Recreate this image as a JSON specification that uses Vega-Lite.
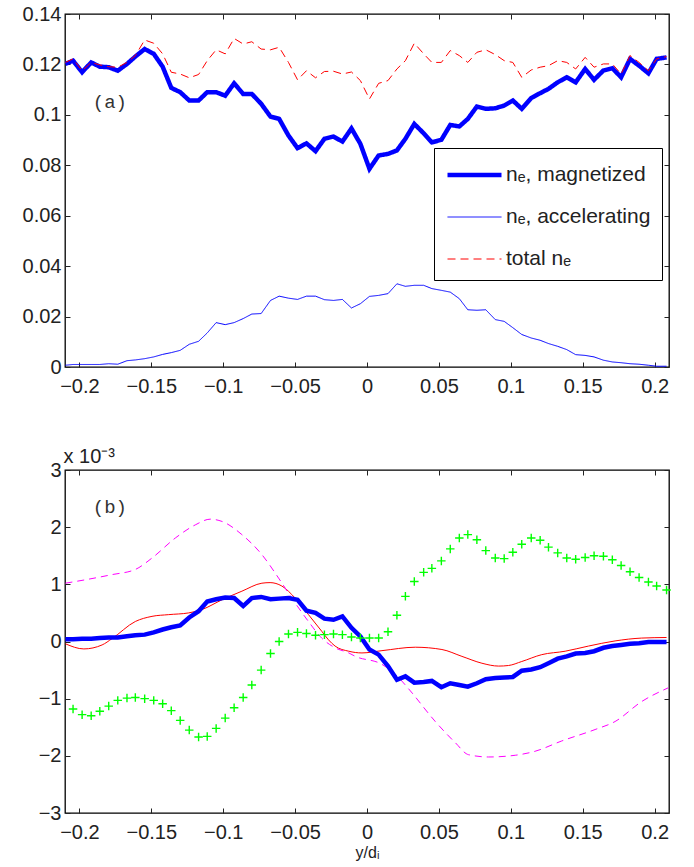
{
  "$schema": "https://vega.github.io/schema/vega-lite/v6.json",
  "autosize": {"type": "pad"},
  "padding": {"left": 21, "top": 3, "right": 5, "bottom": 5},
  "spacing": 48,
  "config": {
    "font": "Liberation Sans",
    "view": {"stroke": "#000", "strokeWidth": 1.3},
    "axis": {"grid": false, "domain": false, "labelFont": "Liberation Sans", "labelFontSize": 20, "labelColor": "#222", "tickColor": "#222", "tickSize": -5, "tickWidth": 1, "labelPadding": 9, "titleFont": "Liberation Sans", "titleFontWeight": "normal", "titleColor": "#222"},
    "axisX": {"labelPadding": 14}
  },
  "datasets": {
    "top": [
{"x":-0.2097,"v":0.1202,"s":"mag"},{"x":-0.2044,"v":0.1215,"s":"mag"},{"x":-0.1981,"v":0.1169,"s":"mag"},{"x":-0.1918,"v":0.1208,"s":"mag"},{"x":-0.1858,"v":0.1191,"s":"mag"},{"x":-0.1796,"v":0.1189,"s":"mag"},{"x":-0.1733,"v":0.1175,"s":"mag"},{"x":-0.1669,"v":0.1202,"s":"mag"},{"x":-0.1611,"v":0.1231,"s":"mag"},{"x":-0.1546,"v":0.1261,"s":"mag"},
{"x":-0.1483,"v":0.1242,"s":"mag"},{"x":-0.1421,"v":0.1191,"s":"mag"},{"x":-0.1361,"v":0.1107,"s":"mag"},{"x":-0.1299,"v":0.1090,"s":"mag"},{"x":-0.1236,"v":0.1057,"s":"mag"},{"x":-0.1171,"v":0.1057,"s":"mag"},{"x":-0.1111,"v":0.1090,"s":"mag"},{"x":-0.1049,"v":0.1090,"s":"mag"},{"x":-0.0986,"v":0.1076,"s":"mag"},{"x":-0.0924,"v":0.1125,"s":"mag"},
{"x":-0.0861,"v":0.1083,"s":"mag"},{"x":-0.0801,"v":0.1083,"s":"mag"},{"x":-0.0736,"v":0.1044,"s":"mag"},{"x":-0.0671,"v":0.0993,"s":"mag"},{"x":-0.0611,"v":0.0984,"s":"mag"},{"x":-0.0546,"v":0.0918,"s":"mag"},{"x":-0.0483,"v":0.0868,"s":"mag"},{"x":-0.0421,"v":0.0887,"s":"mag"},{"x":-0.0358,"v":0.0856,"s":"mag"},{"x":-0.0296,"v":0.0905,"s":"mag"},
{"x":-0.0233,"v":0.0914,"s":"mag"},{"x":-0.0171,"v":0.0894,"s":"mag"},{"x":-0.0108,"v":0.0946,"s":"mag"},{"x":-0.0046,"v":0.0885,"s":"mag"},{"x":0.0017,"v":0.0786,"s":"mag"},{"x":0.0081,"v":0.0839,"s":"mag"},{"x":0.0146,"v":0.0845,"s":"mag"},{"x":0.0208,"v":0.0859,"s":"mag"},{"x":0.0267,"v":0.0905,"s":"mag"},{"x":0.0329,"v":0.0964,"s":"mag"},
{"x":0.0394,"v":0.0927,"s":"mag"},{"x":0.0451,"v":0.0891,"s":"mag"},{"x":0.0517,"v":0.0901,"s":"mag"},{"x":0.0579,"v":0.0960,"s":"mag"},{"x":0.0642,"v":0.0954,"s":"mag"},{"x":0.0701,"v":0.0984,"s":"mag"},{"x":0.0764,"v":0.1033,"s":"mag"},{"x":0.0826,"v":0.1024,"s":"mag"},{"x":0.0892,"v":0.1026,"s":"mag"},{"x":0.0954,"v":0.1037,"s":"mag"},
{"x":0.1014,"v":0.1057,"s":"mag"},{"x":0.1076,"v":0.1024,"s":"mag"},{"x":0.1142,"v":0.1067,"s":"mag"},{"x":0.1204,"v":0.1086,"s":"mag"},{"x":0.1262,"v":0.1103,"s":"mag"},{"x":0.1326,"v":0.1129,"s":"mag"},{"x":0.1389,"v":0.1149,"s":"mag"},{"x":0.1451,"v":0.1129,"s":"mag"},{"x":0.1517,"v":0.1182,"s":"mag"},{"x":0.1579,"v":0.1139,"s":"mag"},
{"x":0.1644,"v":0.1176,"s":"mag"},{"x":0.1706,"v":0.1185,"s":"mag"},{"x":0.1767,"v":0.1149,"s":"mag"},{"x":0.1829,"v":0.1222,"s":"mag"},{"x":0.1892,"v":0.1195,"s":"mag"},{"x":0.1957,"v":0.1165,"s":"mag"},{"x":0.2014,"v":0.1222,"s":"mag"},{"x":0.2083,"v":0.1228,"s":"mag"},

{"x":-0.2097,"v":0.0007,"s":"acc"},{"x":-0.2044,"v":0.0010,"s":"acc"},{"x":-0.1981,"v":0.0010,"s":"acc"},{"x":-0.1918,"v":0.0010,"s":"acc"},{"x":-0.1858,"v":0.0010,"s":"acc"},{"x":-0.1796,"v":0.0013,"s":"acc"},{"x":-0.1733,"v":0.0011,"s":"acc"},{"x":-0.1669,"v":0.0025,"s":"acc"},{"x":-0.1611,"v":0.0028,"s":"acc"},{"x":-0.1546,"v":0.0033,"s":"acc"},
{"x":-0.1483,"v":0.0040,"s":"acc"},{"x":-0.1421,"v":0.0050,"s":"acc"},{"x":-0.1361,"v":0.0057,"s":"acc"},{"x":-0.1299,"v":0.0066,"s":"acc"},{"x":-0.1236,"v":0.0090,"s":"acc"},{"x":-0.1171,"v":0.0102,"s":"acc"},{"x":-0.1111,"v":0.0135,"s":"acc"},{"x":-0.1049,"v":0.0176,"s":"acc"},{"x":-0.0986,"v":0.0168,"s":"acc"},{"x":-0.0924,"v":0.0176,"s":"acc"},
{"x":-0.0861,"v":0.0192,"s":"acc"},{"x":-0.0801,"v":0.0210,"s":"acc"},{"x":-0.0736,"v":0.0212,"s":"acc"},{"x":-0.0671,"v":0.0264,"s":"acc"},{"x":-0.0611,"v":0.0281,"s":"acc"},{"x":-0.0546,"v":0.0273,"s":"acc"},{"x":-0.0483,"v":0.0268,"s":"acc"},{"x":-0.0421,"v":0.0281,"s":"acc"},{"x":-0.0358,"v":0.0281,"s":"acc"},{"x":-0.0296,"v":0.0267,"s":"acc"},
{"x":-0.0233,"v":0.0264,"s":"acc"},{"x":-0.0171,"v":0.0268,"s":"acc"},{"x":-0.0108,"v":0.0234,"s":"acc"},{"x":-0.0046,"v":0.0251,"s":"acc"},{"x":0.0017,"v":0.0280,"s":"acc"},{"x":0.0081,"v":0.0284,"s":"acc"},{"x":0.0146,"v":0.0291,"s":"acc"},{"x":0.0208,"v":0.0330,"s":"acc"},{"x":0.0267,"v":0.0320,"s":"acc"},{"x":0.0329,"v":0.0324,"s":"acc"},
{"x":0.0394,"v":0.0324,"s":"acc"},{"x":0.0451,"v":0.0311,"s":"acc"},{"x":0.0517,"v":0.0304,"s":"acc"},{"x":0.0579,"v":0.0297,"s":"acc"},{"x":0.0642,"v":0.0271,"s":"acc"},{"x":0.0701,"v":0.0227,"s":"acc"},{"x":0.0764,"v":0.0225,"s":"acc"},{"x":0.0826,"v":0.0227,"s":"acc"},{"x":0.0892,"v":0.0188,"s":"acc"},{"x":0.0954,"v":0.0181,"s":"acc"},
{"x":0.1014,"v":0.0156,"s":"acc"},{"x":0.1076,"v":0.0129,"s":"acc"},{"x":0.1142,"v":0.0115,"s":"acc"},{"x":0.1204,"v":0.0106,"s":"acc"},{"x":0.1262,"v":0.0093,"s":"acc"},{"x":0.1326,"v":0.0082,"s":"acc"},{"x":0.1389,"v":0.0069,"s":"acc"},{"x":0.1451,"v":0.0049,"s":"acc"},{"x":0.1517,"v":0.0046,"s":"acc"},{"x":0.1579,"v":0.0040,"s":"acc"},
{"x":0.1644,"v":0.0027,"s":"acc"},{"x":0.1706,"v":0.0020,"s":"acc"},{"x":0.1767,"v":0.0017,"s":"acc"},{"x":0.1829,"v":0.0013,"s":"acc"},{"x":0.1892,"v":0.0011,"s":"acc"},{"x":0.1957,"v":0.0007,"s":"acc"},{"x":0.2014,"v":0.0003,"s":"acc"},{"x":0.2083,"v":0.0003,"s":"acc"},

{"x":-0.2097,"v":0.1208,"s":"tot"},{"x":-0.2044,"v":0.1222,"s":"tot"},{"x":-0.1981,"v":0.1175,"s":"tot"},{"x":-0.1918,"v":0.1208,"s":"tot"},{"x":-0.1858,"v":0.1198,"s":"tot"},{"x":-0.1796,"v":0.1191,"s":"tot"},{"x":-0.1733,"v":0.1189,"s":"tot"},{"x":-0.1669,"v":0.1208,"s":"tot"},{"x":-0.1611,"v":0.1235,"s":"tot"},{"x":-0.1546,"v":0.1297,"s":"tot"},
{"x":-0.1483,"v":0.1284,"s":"tot"},{"x":-0.1421,"v":0.1242,"s":"tot"},{"x":-0.1361,"v":0.1169,"s":"tot"},{"x":-0.1299,"v":0.1162,"s":"tot"},{"x":-0.1236,"v":0.1147,"s":"tot"},{"x":-0.1171,"v":0.1160,"s":"tot"},{"x":-0.1111,"v":0.1215,"s":"tot"},{"x":-0.1049,"v":0.1258,"s":"tot"},{"x":-0.0986,"v":0.1242,"s":"tot"},{"x":-0.0924,"v":0.1303,"s":"tot"},
{"x":-0.0861,"v":0.1281,"s":"tot"},{"x":-0.0801,"v":0.1290,"s":"tot"},{"x":-0.0736,"v":0.1261,"s":"tot"},{"x":-0.0671,"v":0.1258,"s":"tot"},{"x":-0.0611,"v":0.1268,"s":"tot"},{"x":-0.0546,"v":0.1208,"s":"tot"},{"x":-0.0483,"v":0.1139,"s":"tot"},{"x":-0.0421,"v":0.1175,"s":"tot"},{"x":-0.0358,"v":0.1147,"s":"tot"},{"x":-0.0296,"v":0.1172,"s":"tot"},
{"x":-0.0233,"v":0.1173,"s":"tot"},{"x":-0.0171,"v":0.1162,"s":"tot"},{"x":-0.0108,"v":0.1170,"s":"tot"},{"x":-0.0046,"v":0.1136,"s":"tot"},{"x":0.0017,"v":0.1063,"s":"tot"},{"x":0.0081,"v":0.1125,"s":"tot"},{"x":0.0146,"v":0.1136,"s":"tot"},{"x":0.0208,"v":0.1182,"s":"tot"},{"x":0.0267,"v":0.1215,"s":"tot"},{"x":0.0329,"v":0.1284,"s":"tot"},
{"x":0.0394,"v":0.1242,"s":"tot"},{"x":0.0451,"v":0.1208,"s":"tot"},{"x":0.0517,"v":0.1208,"s":"tot"},{"x":0.0579,"v":0.1255,"s":"tot"},{"x":0.0642,"v":0.1235,"s":"tot"},{"x":0.0701,"v":0.1208,"s":"tot"},{"x":0.0764,"v":0.1248,"s":"tot"},{"x":0.0826,"v":0.1258,"s":"tot"},{"x":0.0892,"v":0.1239,"s":"tot"},{"x":0.0954,"v":0.1215,"s":"tot"},
{"x":0.1014,"v":0.1208,"s":"tot"},{"x":0.1076,"v":0.1149,"s":"tot"},{"x":0.1142,"v":0.1178,"s":"tot"},{"x":0.1204,"v":0.1189,"s":"tot"},{"x":0.1262,"v":0.1195,"s":"tot"},{"x":0.1326,"v":0.1215,"s":"tot"},{"x":0.1389,"v":0.1208,"s":"tot"},{"x":0.1451,"v":0.1182,"s":"tot"},{"x":0.1517,"v":0.1228,"s":"tot"},{"x":0.1579,"v":0.1189,"s":"tot"},
{"x":0.1644,"v":0.1202,"s":"tot"},{"x":0.1706,"v":0.1202,"s":"tot"},{"x":0.1767,"v":0.1162,"s":"tot"},{"x":0.1829,"v":0.1235,"s":"tot"},{"x":0.1892,"v":0.1208,"s":"tot"},{"x":0.1957,"v":0.1175,"s":"tot"},{"x":0.2014,"v":0.1222,"s":"tot"},{"x":0.2083,"v":0.1231,"s":"tot"}
    ],
    "bottom": [
{"x":-0.2097,"v":-0.04,"s":"red"},{"x":-0.1969,"v":-0.13,"s":"red"},{"x":-0.1842,"v":-0.06,"s":"red"},{"x":-0.1773,"v":0.05,"s":"red"},{"x":-0.1611,"v":0.35,"s":"red"},{"x":-0.1495,"v":0.44,"s":"red"},{"x":-0.1379,"v":0.47,"s":"red"},{"x":-0.1240,"v":0.50,"s":"red"},{"x":-0.1147,"v":0.56,"s":"red"},{"x":-0.1008,"v":0.73,"s":"red"},
{"x":-0.0870,"v":0.88,"s":"red"},{"x":-0.0731,"v":1.02,"s":"red"},{"x":-0.0674,"v":1.03,"s":"red"},{"x":-0.0592,"v":0.97,"s":"red"},{"x":-0.0500,"v":0.76,"s":"red"},{"x":-0.0407,"v":0.47,"s":"red"},{"x":-0.0315,"v":0.18,"s":"red"},{"x":-0.0268,"v":0.03,"s":"red"},{"x":-0.0222,"v":-0.08,"s":"red"},{"x":-0.0127,"v":-0.17,"s":"red"},
{"x":-0.0035,"v":-0.20,"s":"red"},{"x":0.0104,"v":-0.16,"s":"red"},{"x":0.0336,"v":-0.10,"s":"red"},{"x":0.0521,"v":-0.14,"s":"red"},{"x":0.0660,"v":-0.26,"s":"red"},{"x":0.0799,"v":-0.38,"s":"red"},{"x":0.0915,"v":-0.43,"s":"red"},{"x":0.0984,"v":-0.42,"s":"red"},{"x":0.1076,"v":-0.35,"s":"red"},{"x":0.1215,"v":-0.23,"s":"red"},
{"x":0.1378,"v":-0.17,"s":"red"},{"x":0.1540,"v":-0.08,"s":"red"},{"x":0.1725,"v":0.01,"s":"red"},{"x":0.1910,"v":0.06,"s":"red"},{"x":0.2083,"v":0.07,"s":"red"},

{"x":-0.2097,"v":1.02,"s":"mag"},{"x":-0.1958,"v":1.08,"s":"mag"},{"x":-0.1773,"v":1.17,"s":"mag"},{"x":-0.1611,"v":1.26,"s":"mag"},{"x":-0.1495,"v":1.46,"s":"mag"},{"x":-0.1333,"v":1.81,"s":"mag"},{"x":-0.1194,"v":2.04,"s":"mag"},{"x":-0.1090,"v":2.14,"s":"mag"},{"x":-0.1008,"v":2.10,"s":"mag"},{"x":-0.0870,"v":1.87,"s":"mag"},
{"x":-0.0731,"v":1.52,"s":"mag"},{"x":-0.0615,"v":1.11,"s":"mag"},{"x":-0.0523,"v":0.76,"s":"mag"},{"x":-0.0407,"v":0.35,"s":"mag"},{"x":-0.0315,"v":0.06,"s":"mag"},{"x":-0.0222,"v":-0.11,"s":"mag"},{"x":-0.0127,"v":-0.20,"s":"mag"},{"x":-0.0081,"v":-0.26,"s":"mag"},{"x":0.0104,"v":-0.40,"s":"mag"},{"x":0.0208,"v":-0.60,"s":"mag"},
{"x":0.0290,"v":-0.83,"s":"mag"},{"x":0.0475,"v":-1.40,"s":"mag"},{"x":0.0614,"v":-1.77,"s":"mag"},{"x":0.0706,"v":-1.98,"s":"mag"},{"x":0.0845,"v":-2.02,"s":"mag"},{"x":0.1031,"v":-1.99,"s":"mag"},{"x":0.1169,"v":-1.92,"s":"mag"},{"x":0.1354,"v":-1.74,"s":"mag"},{"x":0.1586,"v":-1.54,"s":"mag"},{"x":0.1725,"v":-1.40,"s":"mag"},
{"x":0.1910,"v":-1.05,"s":"mag"},{"x":0.2095,"v":-0.81,"s":"mag"},

{"x":-0.2097,"v":0.04,"s":"blue"},{"x":-0.2044,"v":0.04,"s":"blue"},{"x":-0.1981,"v":0.05,"s":"blue"},{"x":-0.1918,"v":0.05,"s":"blue"},{"x":-0.1858,"v":0.06,"s":"blue"},{"x":-0.1796,"v":0.07,"s":"blue"},{"x":-0.1733,"v":0.07,"s":"blue"},{"x":-0.1669,"v":0.09,"s":"blue"},{"x":-0.1611,"v":0.11,"s":"blue"},{"x":-0.1546,"v":0.12,"s":"blue"},
{"x":-0.1483,"v":0.16,"s":"blue"},{"x":-0.1421,"v":0.21,"s":"blue"},{"x":-0.1361,"v":0.25,"s":"blue"},{"x":-0.1299,"v":0.28,"s":"blue"},{"x":-0.1236,"v":0.42,"s":"blue"},{"x":-0.1171,"v":0.53,"s":"blue"},{"x":-0.1111,"v":0.70,"s":"blue"},{"x":-0.1049,"v":0.74,"s":"blue"},{"x":-0.0986,"v":0.77,"s":"blue"},{"x":-0.0924,"v":0.76,"s":"blue"},
{"x":-0.0861,"v":0.62,"s":"blue"},{"x":-0.0801,"v":0.76,"s":"blue"},{"x":-0.0736,"v":0.78,"s":"blue"},{"x":-0.0671,"v":0.74,"s":"blue"},{"x":-0.0611,"v":0.75,"s":"blue"},{"x":-0.0546,"v":0.76,"s":"blue"},{"x":-0.0483,"v":0.73,"s":"blue"},{"x":-0.0421,"v":0.54,"s":"blue"},{"x":-0.0358,"v":0.50,"s":"blue"},{"x":-0.0296,"v":0.40,"s":"blue"},
{"x":-0.0233,"v":0.38,"s":"blue"},{"x":-0.0171,"v":0.44,"s":"blue"},{"x":-0.0108,"v":0.24,"s":"blue"},{"x":-0.0046,"v":0.09,"s":"blue"},{"x":0.0017,"v":-0.14,"s":"blue"},{"x":0.0081,"v":-0.23,"s":"blue"},{"x":0.0146,"v":-0.43,"s":"blue"},{"x":0.0208,"v":-0.67,"s":"blue"},{"x":0.0267,"v":-0.61,"s":"blue"},{"x":0.0329,"v":-0.72,"s":"blue"},
{"x":0.0394,"v":-0.71,"s":"blue"},{"x":0.0451,"v":-0.69,"s":"blue"},{"x":0.0517,"v":-0.80,"s":"blue"},{"x":0.0579,"v":-0.73,"s":"blue"},{"x":0.0642,"v":-0.76,"s":"blue"},{"x":0.0701,"v":-0.79,"s":"blue"},{"x":0.0764,"v":-0.73,"s":"blue"},{"x":0.0826,"v":-0.66,"s":"blue"},{"x":0.0892,"v":-0.64,"s":"blue"},{"x":0.0954,"v":-0.63,"s":"blue"},
{"x":0.1014,"v":-0.62,"s":"blue"},{"x":0.1076,"v":-0.51,"s":"blue"},{"x":0.1142,"v":-0.49,"s":"blue"},{"x":0.1204,"v":-0.45,"s":"blue"},{"x":0.1262,"v":-0.38,"s":"blue"},{"x":0.1326,"v":-0.30,"s":"blue"},{"x":0.1389,"v":-0.26,"s":"blue"},{"x":0.1451,"v":-0.21,"s":"blue"},{"x":0.1517,"v":-0.20,"s":"blue"},{"x":0.1579,"v":-0.17,"s":"blue"},
{"x":0.1644,"v":-0.11,"s":"blue"},{"x":0.1706,"v":-0.08,"s":"blue"},{"x":0.1767,"v":-0.06,"s":"blue"},{"x":0.1829,"v":-0.04,"s":"blue"},{"x":0.1892,"v":-0.03,"s":"blue"},{"x":0.1957,"v":-0.01,"s":"blue"},{"x":0.2014,"v":-0.01,"s":"blue"},{"x":0.2083,"v":-0.01,"s":"blue"},

{"x":-0.2044,"v":-1.18,"s":"green"},{"x":-0.1981,"v":-1.28,"s":"green"},{"x":-0.1918,"v":-1.30,"s":"green"},{"x":-0.1858,"v":-1.22,"s":"green"},{"x":-0.1796,"v":-1.13,"s":"green"},{"x":-0.1733,"v":-1.03,"s":"green"},{"x":-0.1669,"v":-0.99,"s":"green"},{"x":-0.1611,"v":-0.98,"s":"green"},{"x":-0.1546,"v":-1.00,"s":"green"},
{"x":-0.1483,"v":-1.03,"s":"green"},{"x":-0.1421,"v":-1.09,"s":"green"},{"x":-0.1361,"v":-1.21,"s":"green"},{"x":-0.1299,"v":-1.38,"s":"green"},{"x":-0.1236,"v":-1.55,"s":"green"},{"x":-0.1171,"v":-1.67,"s":"green"},{"x":-0.1111,"v":-1.66,"s":"green"},{"x":-0.1049,"v":-1.52,"s":"green"},{"x":-0.0986,"v":-1.34,"s":"green"},{"x":-0.0924,"v":-1.16,"s":"green"},
{"x":-0.0861,"v":-0.98,"s":"green"},{"x":-0.0801,"v":-0.76,"s":"green"},{"x":-0.0736,"v":-0.50,"s":"green"},{"x":-0.0671,"v":-0.21,"s":"green"},{"x":-0.0611,"v":0.00,"s":"green"},{"x":-0.0546,"v":0.13,"s":"green"},{"x":-0.0483,"v":0.16,"s":"green"},{"x":-0.0421,"v":0.14,"s":"green"},{"x":-0.0358,"v":0.11,"s":"green"},{"x":-0.0296,"v":0.12,"s":"green"},
{"x":-0.0233,"v":0.13,"s":"green"},{"x":-0.0171,"v":0.12,"s":"green"},{"x":-0.0108,"v":0.08,"s":"green"},{"x":-0.0046,"v":0.06,"s":"green"},{"x":0.0017,"v":0.06,"s":"green"},{"x":0.0081,"v":0.06,"s":"green"},{"x":0.0146,"v":0.17,"s":"green"},{"x":0.0208,"v":0.46,"s":"green"},{"x":0.0267,"v":0.79,"s":"green"},{"x":0.0329,"v":1.05,"s":"green"},
{"x":0.0394,"v":1.21,"s":"green"},{"x":0.0451,"v":1.28,"s":"green"},{"x":0.0517,"v":1.41,"s":"green"},{"x":0.0579,"v":1.62,"s":"green"},{"x":0.0642,"v":1.81,"s":"green"},{"x":0.0701,"v":1.87,"s":"green"},{"x":0.0764,"v":1.78,"s":"green"},{"x":0.0826,"v":1.59,"s":"green"},{"x":0.0892,"v":1.46,"s":"green"},{"x":0.0954,"v":1.45,"s":"green"},
{"x":0.1014,"v":1.56,"s":"green"},{"x":0.1076,"v":1.70,"s":"green"},{"x":0.1142,"v":1.81,"s":"green"},{"x":0.1204,"v":1.77,"s":"green"},{"x":0.1262,"v":1.65,"s":"green"},{"x":0.1326,"v":1.55,"s":"green"},{"x":0.1389,"v":1.46,"s":"green"},{"x":0.1451,"v":1.44,"s":"green"},{"x":0.1517,"v":1.47,"s":"green"},{"x":0.1579,"v":1.50,"s":"green"},
{"x":0.1644,"v":1.49,"s":"green"},{"x":0.1706,"v":1.43,"s":"green"},{"x":0.1767,"v":1.33,"s":"green"},{"x":0.1829,"v":1.22,"s":"green"},{"x":0.1892,"v":1.12,"s":"green"},{"x":0.1957,"v":1.04,"s":"green"},{"x":0.2014,"v":0.97,"s":"green"},{"x":0.2083,"v":0.90,"s":"green"}
    ],
    "labels": [{"a": "(a)", "b": "(b)"}]
  },
  "resolve": {
    "scale": {"color": "independent", "strokeWidth": "independent", "strokeDash": "independent"},
    "legend": {"color": "independent", "strokeWidth": "independent", "strokeDash": "independent"}
  },
  "vconcat": [
    {
      "width": 604,
      "height": 353,
      "layer": [
        {
          "data": {"name": "top"},
          "mark": {"type": "line", "clip": true},
          "encoding": {
            "x": {"field": "x", "type": "quantitative", "scale": {"domain": [-0.21, 0.21], "nice": false, "zero": false}, "axis": {"values": [-0.2, -0.15, -0.1, -0.05, 0, 0.05, 0.1, 0.15, 0.2], "format": "~g", "title": null}},
            "y": {"field": "v", "type": "quantitative", "scale": {"domain": [0, 0.14], "nice": false}, "axis": {"values": [0, 0.02, 0.04, 0.06, 0.08, 0.1, 0.12, 0.14], "format": "~g", "title": null}},
            "color": {"field": "s", "type": "nominal", "scale": {"domain": ["mag", "acc", "tot"], "range": ["#0000ff", "#0000ff", "#ff0000"]},
              "legend": {"title": null, "orient": "none", "legendX": 369, "legendY": 134, "symbolType": "M-1,0L3,0", "symbolSize": 729, "labelFontSize": 21, "labelFont": "Liberation Sans", "labelColor": "#222", "strokeColor": "#000", "fillColor": "#fff", "padding": 11, "rowPadding": 18, "labelOffset": 29, "labelLimit": 400,
                "labelExpr": "datum.label == 'mag' ? 'nₑ, magnetized' : datum.label == 'acc' ? 'nₑ, accelerating' : 'total nₑ'"}},
            "strokeWidth": {"field": "s", "type": "nominal", "scale": {"type": "ordinal", "domain": ["mag", "acc", "tot"], "range": [4.5, 1, 1]},
              "legend": {"title": null, "orient": "none", "legendX": 369, "legendY": 134, "symbolType": "M-1,0L3,0", "symbolSize": 729, "labelFontSize": 21, "labelFont": "Liberation Sans", "labelColor": "#222", "strokeColor": "#000", "fillColor": "#fff", "padding": 11, "rowPadding": 18, "labelOffset": 29, "labelLimit": 400,
                "labelExpr": "datum.label == 'mag' ? 'nₑ, magnetized' : datum.label == 'acc' ? 'nₑ, accelerating' : 'total nₑ'"}},
            "strokeDash": {"field": "s", "type": "nominal", "scale": {"domain": ["mag", "acc", "tot"], "range": [[1, 0], [1, 0], [8, 5]]},
              "legend": {"title": null, "orient": "none", "legendX": 369, "legendY": 134, "symbolType": "M-1,0L3,0", "symbolSize": 729, "labelFontSize": 21, "labelFont": "Liberation Sans", "labelColor": "#222", "strokeColor": "#000", "fillColor": "#fff", "padding": 11, "rowPadding": 18, "labelOffset": 29, "labelLimit": 400,
                "labelExpr": "datum.label == 'mag' ? 'nₑ, magnetized' : datum.label == 'acc' ? 'nₑ, accelerating' : 'total nₑ'"}}
          }
        },
        {
          "data": {"name": "labels"},
          "mark": {"type": "text", "font": "Liberation Mono", "fontSize": 19, "color": "#333", "align": "left", "baseline": "middle"},
          "encoding": {
            "x": {"datum": -0.1907, "type": "quantitative", "axis": null},
            "y": {"datum": 0.105, "type": "quantitative", "axis": null},
            "text": {"field": "a"}
          }
        },
        {
          "data": {"name": "top"},
          "mark": {"type": "line", "strokeOpacity": 0},
          "encoding": {
            "x": {"field": "x", "type": "quantitative", "axis": {"orient": "top", "labels": false, "values": [-0.2, -0.15, -0.1, -0.05, 0, 0.05, 0.1, 0.15, 0.2], "title": null}},
            "y": {"field": "v", "type": "quantitative", "axis": {"orient": "right", "labels": false, "values": [0, 0.02, 0.04, 0.06, 0.08, 0.1, 0.12, 0.14], "title": null}}
          }
        }
      ],
      "resolve": {"axis": {"x": "independent", "y": "independent"}}
    },
    {
      "width": 604,
      "height": 343,
      "layer": [
        {
          "data": {"name": "bottom"},
          "transform": [{"filter": "datum.s == 'red'"}],
          "mark": {"type": "line", "color": "#ff0000", "strokeWidth": 1, "interpolate": "monotone", "clip": true},
          "encoding": {
            "x": {"field": "x", "type": "quantitative", "scale": {"domain": [-0.21, 0.21], "nice": false, "zero": false}, "axis": {"values": [-0.2, -0.15, -0.1, -0.05, 0, 0.05, 0.1, 0.15, 0.2], "format": "~g", "title": "y/dᵢ", "titleFontSize": 16, "titlePadding": 2}},
            "y": {"field": "v", "type": "quantitative", "scale": {"domain": [-3, 3], "nice": false}, "axis": {"values": [-3, -2, -1, 0, 1, 2, 3], "format": "~g", "title": "x 10⁻³", "titleAngle": 0, "titleAlign": "left", "titleBaseline": "alphabetic", "titleX": -2, "titleY": -8, "titleFontSize": 20}}
          }
        },
        {
          "data": {"name": "bottom"},
          "transform": [{"filter": "datum.s == 'mag'"}],
          "mark": {"type": "line", "color": "#ff00ff", "strokeWidth": 1, "strokeDash": [7, 5], "interpolate": "monotone", "clip": true},
          "encoding": {
            "x": {"field": "x", "type": "quantitative", "axis": null},
            "y": {"field": "v", "type": "quantitative", "axis": null}
          }
        },
        {
          "data": {"name": "bottom"},
          "transform": [{"filter": "datum.s == 'blue'"}],
          "mark": {"type": "line", "color": "#0000ff", "strokeWidth": 4.5, "clip": true},
          "encoding": {
            "x": {"field": "x", "type": "quantitative", "axis": null},
            "y": {"field": "v", "type": "quantitative", "axis": null}
          }
        },
        {
          "data": {"name": "bottom"},
          "transform": [{"filter": "datum.s == 'green'"}],
          "mark": {"type": "point", "shape": "M-1,0L1,0M0,-1L0,1", "size": 72, "filled": false, "stroke": "#00ff00", "strokeWidth": 1.4, "opacity": 1},
          "encoding": {
            "x": {"field": "x", "type": "quantitative", "axis": null},
            "y": {"field": "v", "type": "quantitative", "axis": null}
          }
        },
        {
          "data": {"name": "labels"},
          "mark": {"type": "text", "font": "Liberation Mono", "fontSize": 19, "color": "#333", "align": "left", "baseline": "middle"},
          "encoding": {
            "x": {"datum": -0.1907, "type": "quantitative", "axis": null},
            "y": {"datum": 2.36, "type": "quantitative", "axis": null},
            "text": {"field": "b"}
          }
        },
        {
          "data": {"name": "bottom"},
          "mark": {"type": "line", "strokeOpacity": 0},
          "encoding": {
            "x": {"field": "x", "type": "quantitative", "axis": {"orient": "top", "labels": false, "values": [-0.2, -0.15, -0.1, -0.05, 0, 0.05, 0.1, 0.15, 0.2], "title": null}},
            "y": {"field": "v", "type": "quantitative", "axis": {"orient": "right", "labels": false, "values": [-3, -2, -1, 0, 1, 2, 3], "title": null}},
            "detail": {"field": "s", "type": "nominal"}
          }
        }
      ],
      "resolve": {"axis": {"x": "independent", "y": "independent"}}
    }
  ]
}
